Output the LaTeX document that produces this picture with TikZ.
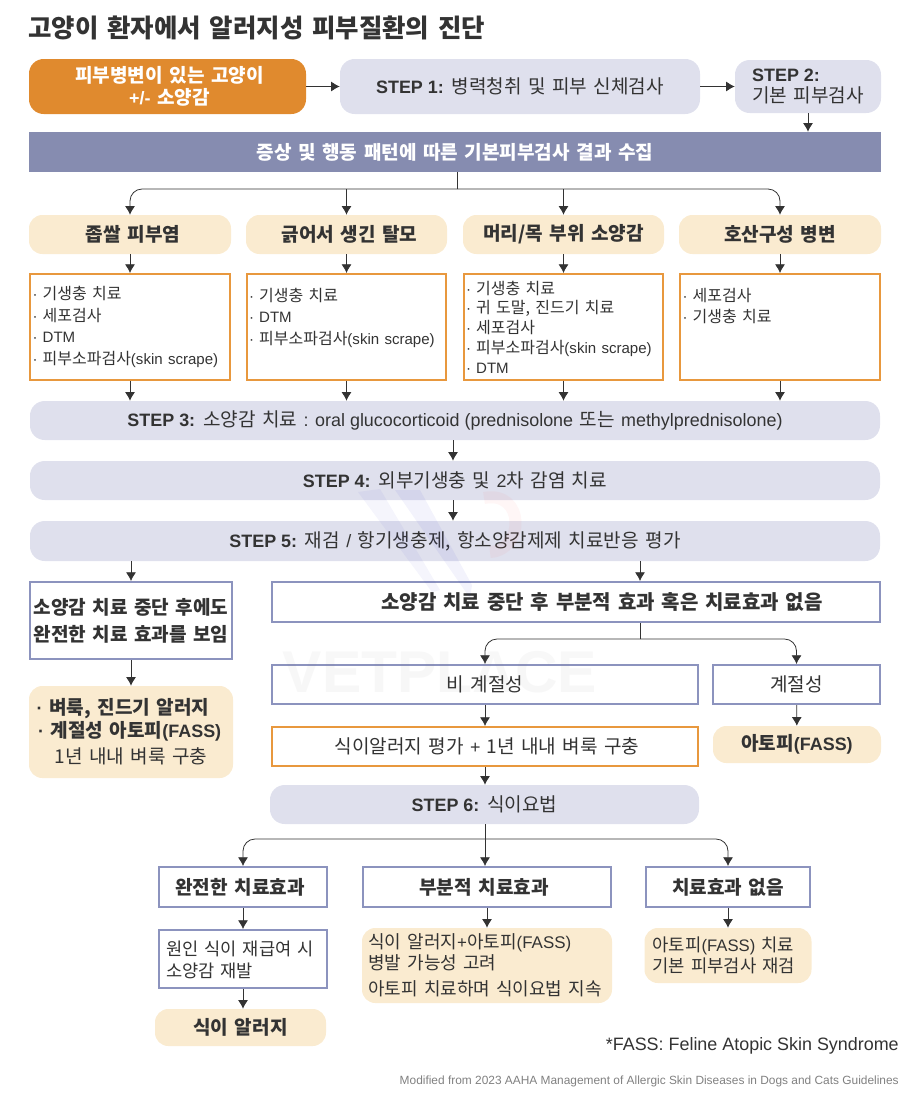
\documentclass[tikz,border=0pt]{standalone}
\usepackage{fontspec}
\setmainfont[WordSpace=1.5]{Noto Sans CJK KR}
\newfontfamily\enfont[Scale=0.94]{Liberation Sans}
\newcommand{\en}[1]{{\enfont #1}}
\usepackage{tikz}
\usetikzlibrary{arrows.meta}
\definecolor{inkgray}{HTML}{333333}
\definecolor{stepblue}{HTML}{DFE0ED}
\definecolor{bannerblue}{HTML}{868CB0}
\definecolor{edgeblue}{HTML}{8C93BE}
\definecolor{careorange}{HTML}{E08A2E}
\definecolor{edgeorange}{HTML}{E8983E}
\definecolor{cream}{HTML}{FAEBD0}
\newcommand{\px}{0.75pt}
\newcommand{\li}{\makebox[7.5pt][l]{\en{·}}}
\tikzset{
   txt/.style={text=inkgray, inner sep=0pt, align=center, font=\fontsize{14.3}{18}\selectfont},
   stepbox/.style={txt, fill=stepblue, rounded corners=11pt},
   creambox/.style={txt, fill=cream, rounded corners=10pt},
   orangebox/.style={txt, draw=edgeorange, line width=1.5pt, fill=white},
   bluebox/.style={txt, draw=edgeblue, line width=1.5pt, fill=white},
   listbox/.style={orangebox, minimum height=106*\px, text width=146pt, align=left, font=\fontsize{12}{16.3}\selectfont},
   arr/.style={-{Latex[length=6.5pt,width=7.5pt]}, draw=inkgray, line width=0.6pt},
   stem/.style={draw=inkgray, line width=0.6pt},
}
\begin{document}
\begin{tikzpicture}[x=\px, y=-\px]
   \useasboundingbox (0,0) rectangle (922,1115);

   \node (title) at (28,27.5) [anchor=west, text=inkgray, inner sep=0pt, font=\fontsize{19.1}{22}\selectfont\bfseries] {고양이 환자에서 알러지성 피부질환의 진단};

   \node (start) at (167.5,86.5) [txt, fill=careorange, text=white, rounded corners=11pt, minimum width=277*\px, minimum height=55*\px, font=\fontsize{14.3}{16.5}\selectfont\bfseries] {\hspace*{3pt}피부병변이 있는 고양이\\\hspace*{3pt}\en{+/-} 소양감};
   \node (step1) at (520,86.5) [stepbox, minimum width=360*\px, minimum height=55*\px] {\en{\bfseries STEP 1:} 병력청취 및 피부 신체검사};
   \node (step2) at (808,86.5) [stepbox, minimum width=146*\px, minimum height=53*\px, align=left, font=\fontsize{14.3}{15.8}\selectfont] {\en{\bfseries STEP 2:}\\기본 피부검사};
   \node (banner) at (455,152) [txt, fill=bannerblue, text=white, minimum width=852*\px, minimum height=40*\px, font=\fontsize{14.3}{18}\selectfont\bfseries] {증상 및 행동 패턴에 따른 기본피부검사 결과 수집};

   \node (cat1) at (130,234.5) [creambox, minimum width=202*\px, minimum height=39*\px] {\hspace*{4.5pt}\bfseries 좁쌀 피부염};
   \node (cat2) at (346.5,234.5) [creambox, minimum width=201*\px, minimum height=39*\px] {\hspace*{4.5pt}\bfseries 긁어서 생긴 탈모};
   \node (cat3) at (563.5,234.5) [creambox, minimum width=201*\px, minimum height=39*\px] {\bfseries 머리/목 부위 소양감};
   \node (cat4) at (780,234.5) [creambox, minimum width=202*\px, minimum height=39*\px] {\bfseries 호산구성 병변};

   \node (list1) at (130,327) [listbox, minimum width=200*\px] {\li 기생충 치료\\\li 세포검사\\\li\en{DTM}\\\li 피부소파검사\en{(skin scrape)}};
   \node (list2) at (346.5,327) [listbox, minimum width=199*\px] {\li 기생충 치료\\\li\en{DTM}\\\li 피부소파검사\en{(skin scrape)}\\~};
   \node (list3) at (563.5,327) [listbox, minimum width=199*\px, font=\fontsize{12}{14.8}\selectfont] {\li 기생충 치료\\\li 귀 도말, 진드기 치료\\\li 세포검사\\\li 피부소파검사\en{(skin scrape)}\\\li\en{DTM}};
   \node (list4) at (780,327) [listbox, minimum width=200*\px] {\li 세포검사\\\li 기생충 치료\\~\\~};

   \node (step3) at (455,420.5) [stepbox, minimum width=850*\px, minimum height=39*\px] {\en{\bfseries STEP 3:} 소양감 치료 \en{: oral glucocorticoid (prednisolone} 또는 \en{methylprednisolone)}};
   \node (step4) at (455,480.5) [stepbox, minimum width=850*\px, minimum height=39*\px] {\en{\bfseries STEP 4:} 외부기생충 및 \en{2}차 감염 치료};
   \node (step5) at (455,541) [stepbox, minimum width=850*\px, minimum height=40*\px] {\en{\bfseries STEP 5:} 재검 \en{/} 항기생충제, 항소양감제제 치료반응 평가};

   \node (full) at (131,620.5) [bluebox, minimum width=202*\px, minimum height=77*\px, font=\fontsize{14.3}{20.2}\selectfont\bfseries] {소양감 치료 중단 후에도\\완전한 치료 효과를 보임};
   \node (partial) at (576,602) [bluebox, minimum width=608*\px, minimum height=40*\px, font=\fontsize{15}{18}\selectfont\bfseries] {\hspace*{39pt}소양감 치료 중단 후 부분적 효과 혹은 치료효과 없음};
   \node (flea) at (131,732) [creambox, minimum width=204*\px, minimum height=92*\px, font=\fontsize{14.3}{16}\selectfont] {\hspace*{-12pt}\bfseries \en{·} 벼룩, 진드기 알러지\\[1pt]\hspace*{-2pt}\bfseries \en{·} 계절성 아토피\en{(FASS)}\\[4pt]1년 내내 벼룩 구충};

   \node (nonseason) at (485,684.5) [bluebox, minimum width=426*\px, minimum height=39*\px] {비 계절성};
   \node (season) at (796.5,684.5) [bluebox, minimum width=167*\px, minimum height=39*\px] {계절성};
   \node (foodeval) at (485,746.5) [orangebox, minimum width=426*\px, minimum height=39*\px] {\hspace*{3pt}식이알러지 평가 \en{+} 1년 내내 벼룩 구충};
   \node (atopy) at (797,744.5) [creambox, minimum width=168*\px, minimum height=37*\px] {\bfseries 아토피\en{(FASS)}};
   \node (step6) at (484.5,804.5) [stepbox, minimum width=429*\px, minimum height=39*\px] {\en{\bfseries STEP 6:} 식이요법};

   \node (res1) at (243,887) [bluebox, minimum width=168*\px, minimum height=40*\px] {\hspace*{-4.5pt}\bfseries 완전한 치료효과};
   \node (res2) at (487,887) [bluebox, minimum width=248*\px, minimum height=40*\px] {\hspace*{-4.5pt}\bfseries 부분적 치료효과};
   \node (res3) at (728,887) [bluebox, minimum width=164*\px, minimum height=40*\px] {\bfseries 치료효과 없음};
   \node (rechal) at (243,959) [bluebox, minimum width=168*\px, minimum height=58*\px, text width=115pt, align=left, font=\fontsize{13.2}{16.5}\selectfont] {\rule{0pt}{12pt}원인 식이 재급여 시\\소양감 재발};
   \node (food) at (240.5,1027.5) [creambox, minimum width=171*\px, minimum height=37*\px] {\bfseries 식이 알러지};
   \node (combo) at (487,965.5) [creambox, minimum width=250*\px, minimum height=75*\px, text width=178pt, align=left, font=\fontsize{13.5}{15.8}\selectfont] {식이 알러지\en{+}아토피\en{(FASS)}\\병발 가능성 고려\\[4pt]아토피 치료하며 식이요법 지속};
   \node (recheck) at (728,955.5) [creambox, minimum width=167*\px, minimum height=55*\px, text width=113pt, align=left, font=\fontsize{13.3}{15.8}\selectfont] {아토피\en{(FASS)} 치료\\기본 피부검사 재검};

   \node (note) at (899,1045.5) [anchor=east, text=inkgray, inner sep=0pt, font=\enfont\fontsize{14.3}{16}\selectfont] {*FASS: Feline Atopic Skin Syndrome};
   \node (source) at (899,1081.5) [anchor=east, text=gray, inner sep=0pt, font=\enfont\fontsize{9.5}{11}\selectfont] {Modified from 2023 AAHA Management of Allergic Skin Diseases in Dogs and Cats Guidelines};

   \coordinate (split1) at (457,189);
   \coordinate (split2) at (640,639);
   \coordinate (split3) at (485,839);

   \draw [arr] (start) -- (step1);
   \draw [arr] (step1) -- (step2);
   \draw [arr] (step2) -- (banner.north -| step2);
   \draw [stem] (banner.south -| split1) -- (split1);
   \draw [arr, rounded corners=9pt] (split1) -| (cat1);
   \draw [arr] (split1 -| cat2) -- (cat2);
   \draw [arr] (split1 -| cat3) -- (cat3);
   \draw [arr, rounded corners=9pt] (split1) -| (cat4);
   \draw [arr] (cat1) -- (list1);
   \draw [arr] (cat2) -- (list2);
   \draw [arr] (cat3) -- (list3);
   \draw [arr] (cat4) -- (list4);
   \draw [arr] (list1) -- (step3.north -| list1);
   \draw [arr] (list2) -- (step3.north -| list2);
   \draw [arr] (list3) -- (step3.north -| list3);
   \draw [arr] (list4) -- (step3.north -| list4);
   \draw [arr] (step3.south -| 453,0) -- (step4.north -| 453,0);
   \draw [arr] (step4.south -| 453,0) -- (step5.north -| 453,0);
   \draw [arr] (step5.south -| full) -- (full);
   \draw [arr] (step5.south -| split2) -- (partial.north -| split2);
   \draw [arr] (full) -- (flea);
   \draw [stem] (partial.south -| split2) -- (split2);
   \draw [arr, rounded corners=9pt] (split2) -| (nonseason);
   \draw [arr, rounded corners=9pt] (split2) -| (season);
   \draw [arr] (nonseason) -- (foodeval);
   \draw [arr] (season) -- (atopy);
   \draw [arr] (foodeval) -- (step6.north -| foodeval);
   \draw [stem] (step6.south -| split3) -- (split3);
   \draw [arr, rounded corners=9pt] (split3) -| (res1);
   \draw [arr] (split3) -- (res2.north -| split3);
   \draw [arr, rounded corners=9pt] (split3) -| (res3);
   \draw [arr] (res1) -- (rechal);
   \draw [arr] (res2) -- (combo);
   \draw [arr] (res3) -- (recheck);
   \draw [arr] (rechal.south -| res1) -- (food.north -| res1);

   \fill [blue!60!gray, opacity=0.05] (358,492) -- (380,489) -- (440,590) -- (432,592) -- cycle;
   \fill [blue!60!gray, opacity=0.06] (395,490) -- (420,490) -- (472,585) -- (470,598) -- cycle;
   \draw [red!70!white, opacity=0.05, line width=9pt] (484,498) .. controls (525,490) and (525,550) .. (490,552);
   \node (mark) at (440,672) [text=gray, opacity=0.06, inner sep=0pt, font=\enfont\fontsize{47}{47}\selectfont\bfseries] {VETPLACE};
\end{tikzpicture}
\end{document}
